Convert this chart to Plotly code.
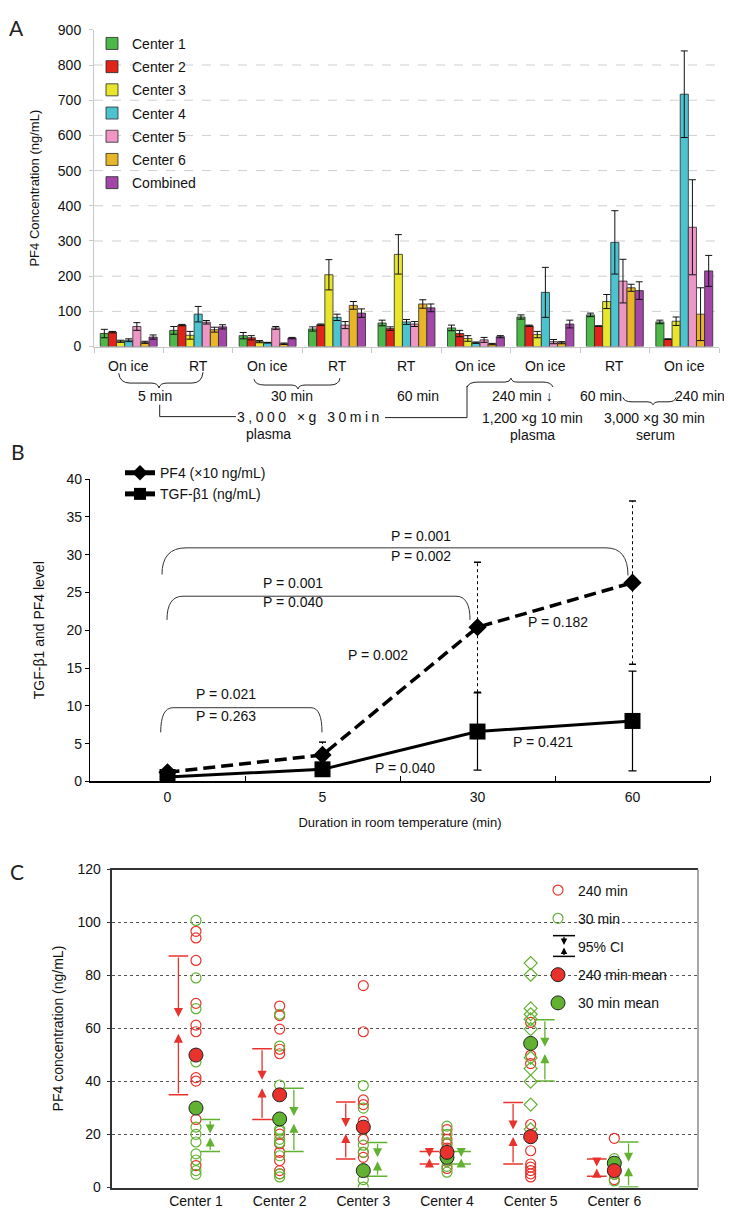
import plotly.graph_objects as go

W, H = 732, 1208
FONT = "Liberation Sans, Arial, Helvetica, sans-serif"


def px(x):
    return x / W


def py(y):
    return 1 - y / H


def path(cmds):
    out = []
    for op, pts in cmds:
        out.append(op + " ".join(f"{px(x):.5f},{py(y):.5f}" for x, y in pts))
    return " ".join(out)


# ---------------- Panel A data ----------------
groups = ["On ice 5 min", "RT 5 min", "On ice 30 min", "RT 30 min", "RT 60 min",
          "On ice 240 min", "On ice 240 min (1,200 xg)", "RT 60 min serum", "On ice 240 min serum"]
cond_labels = ["On ice", "RT", "On ice", "RT", "RT", "On ice", "On ice", "RT", "On ice"]
series_a = ["Center 1", "Center 2", "Center 3", "Center 4", "Center 5", "Center 6", "Combined"]
c1_vals = [37, 46, 31, 50, 67, 53, 84, 90, 70]
c1_err = [12, 11, 9, 6, 8, 8, 6, 5, 5]
c2_vals = [41, 61, 25, 62, 51, 37, 59, 58, 21]
c2_err = [2, 2, 6, 2, 5, 9, 2, 1, 1]
c3_vals = [15, 32, 14, 204, 262, 23, 34, 128, 72]
c3_err = [3, 11, 3, 43, 56, 8, 9, 20, 12]
c4_vals = [18, 92, 11, 83, 70, 11, 154, 296, 717]
c4_err = [4, 22, 1, 9, 7, 2, 71, 90, 123]
c5_vals = [57, 69, 53, 61, 64, 19, 14, 186, 339]
c5_err = [11, 5, 4, 10, 7, 7, 6, 62, 135]
c6_vals = [12, 48, 8, 117, 121, 7, 11, 167, 92]
c6_err = [3, 7, 2, 11, 12, 2, 3, 10, 75]
comb_vals = [27, 56, 24, 95, 110, 28, 64, 159, 215]
comb_err = [6, 6, 2, 12, 11, 3, 11, 25, 44]
yticks_a = [0, 100, 200, 300, 400, 500, 600, 700, 800, 900]

# ---------------- Panel B data ----------------
durations = ["0", "5", "30", "60"]
pf4_vals = [1.2, 3.5, 20.4, 26.3]
pf4_err = [0.4, 1.7, 8.6, 10.8]
tgf_vals = [0.6, 1.6, 6.6, 8.0]
tgf_err = [0.2, 0.3, 5.1, 6.6]

# ---------------- Panel C data ----------------
c_centers = ["Center 1", "Center 2", "Center 3", "Center 4", "Center 5", "Center 6"]
c240_pts = [
    [96.7, 94.2, 85.7, 69.5, 61.3, 58.8, 41.5, 40.2, 25.7, 8.3],
    [68.5, 64.9, 59.8, 52.2, 50.5, 20.2, 16.5, 13.3, 10.2, 6.4, 5.2],
    [76.2, 58.8, 33.1, 31.3, 25.0, 18.2, 13.3, 11.4],
    [21.9, 18.2, 16.5, 14.9, 12.0, 9.9, 7.2],
    [62.3, 49.9, 46.8, 23.8, 13.9, 8.9, 7.7, 6.4, 5.2, 4.0],
    [18.6, 8.0, 5.0, 3.0],
]
c30_pts = [
    [100.8, 79.1, 67.5, 47.4, 22.8, 20.1, 17.2, 12.7, 10.4, 6.4, 5.0],
    [65.4, 53.4, 38.7, 22.0, 21.3, 18.2, 17.0, 12.0, 5.2, 4.0],
    [38.5, 30.0, 22.0, 16.0, 13.3, 6.4, 3.0, 0.2],
    [23.2, 20.1, 17.0, 12.4, 10.0, 8.0, 5.8],
    [84.7, 80.3, 67.6, 65.4, 63.5, 59.8, 49.0, 44.9, 40.0, 31.3, 22.0],
    [10.9, 8.0, 5.0, 2.5],
]
mean240 = [50.0, 35.0, 22.8, 13.3, 19.2, 6.4]
mean30 = [30.0, 25.9, 6.4, 11.4, 54.4, 9.2]
ci240_lo = [35.0, 25.7, 10.8, 8.9, 8.9, 4.3]
ci240_hi = [87.4, 52.4, 32.3, 13.6, 32.1, 10.8]
ci30_lo = [13.6, 13.6, 4.3, 8.9, 40.2, 0.2]
ci30_hi = [25.7, 37.5, 17.0, 13.6, 63.3, 17.2]
yticks_c = [0, 20, 40, 60, 80, 100, 120]

RED = "#e8322b"
GREEN = "#62b232"

fig = go.Figure()

# ---------------- Panel A traces ----------------
colors_a = ["#4cb848", "#e2231a", "#e8e52c", "#4cc4d0", "#ee96c6", "#e8b526", "#a247a8"]
vals_a = [c1_vals, c2_vals, c3_vals, c4_vals, c5_vals, c6_vals, comb_vals]
errs_a = [c1_err, c2_err, c3_err, c4_err, c5_err, c6_err, comb_err]
gx = list(range(len(groups)))
for name, vals, errs, col in zip(series_a, vals_a, errs_a, colors_a):
    fig.add_trace(go.Bar(
        x=gx, y=vals, name=name, xaxis="x", yaxis="y",
        marker=dict(color=col, line=dict(color="#2a2a2a", width=0.8)),
        error_y=dict(type="data", array=errs, color="#111", thickness=1, width=3.5),
        legend="legend", legendgroup=name, hoverinfo="skip"))

# ---------------- Panel B traces ----------------
bx = list(range(len(durations)))
ex, ey, capx, capy = [], [], [], []
for i, (v, e) in enumerate(zip(pf4_vals, pf4_err)):
    ex += [i, i, None]
    ey += [v - e, v + e, None]
    capx += [i, i]
    capy += [v - e, v + e]
fig.add_trace(go.Scatter(x=ex, y=ey, mode="lines", xaxis="x2", yaxis="y2",
                         line=dict(color="black", width=1, dash="dot"),
                         showlegend=False, hoverinfo="skip"))
fig.add_trace(go.Scatter(x=capx, y=capy, mode="markers", xaxis="x2", yaxis="y2",
                         marker=dict(symbol="line-ew", size=5, line=dict(color="black", width=1.5)),
                         showlegend=False, hoverinfo="skip"))
fig.add_trace(go.Scatter(
    x=bx, y=tgf_vals, name="TGF-\u03b21 (ng/mL)", mode="lines+markers", xaxis="x2", yaxis="y2",
    line=dict(color="black", width=3),
    marker=dict(symbol="square", size=16, color="black"),
    error_y=dict(type="data", array=tgf_err, color="black", thickness=1.2, width=4),
    legend="legend2", legendrank=2))
fig.add_trace(go.Scatter(
    x=bx, y=pf4_vals, name="PF4 (\u00d710 ng/mL)", mode="lines+markers", xaxis="x2", yaxis="y2",
    line=dict(color="black", width=3.5, dash="12px,6px"),
    marker=dict(symbol="diamond", size=14, color="black"),
    legend="legend2", legendrank=1))

# ---------------- Panel C traces ----------------
x240, y240, x30, y30, sym30 = [], [], [], [], []
for i, (pts_r, pts_g) in enumerate(zip(c240_pts, c30_pts)):
    for v in pts_r:
        x240.append(i + 1)
        y240.append(v)
    for v in pts_g:
        x30.append(i + 1)
        y30.append(v)
        sym30.append("diamond-open" if c_centers[i] == "Center 5" else "circle-open")

fig.add_trace(go.Scatter(x=x240, y=y240, mode="markers", name="240 min", xaxis="x3", yaxis="y3",
                         marker=dict(symbol="circle-open", size=10, color=RED, line=dict(width=1.2)),
                         legend="legend3", legendgroup="a", legendrank=1))
fig.add_trace(go.Scatter(x=x30, y=y30, mode="markers", name="30 min", xaxis="x3", yaxis="y3",
                         marker=dict(symbol=sym30, size=10, color=GREEN, line=dict(width=1.2)),
                         legend="legend3", legendgroup="b", legendrank=2))
fig.add_trace(go.Scatter(x=[None], y=[None], mode="markers", name="95% CI", xaxis="x3", yaxis="y3",
                         marker=dict(size=1, color="rgba(0,0,0,0)"),
                         legend="legend3", legendgroup="c", legendrank=3))

OFF_R, OFF_G = -0.21, 0.17
cx_r = [i + 1 + OFF_R for i in range(len(c_centers)) for _ in (0, 1)]
cy_r = [v for lo, hi in zip(ci240_lo, ci240_hi) for v in (lo, hi)]
cx_g = [i + 1 + OFF_G for i in range(len(c_centers)) for _ in (0, 1)]
cy_g = [v for lo, hi in zip(ci30_lo, ci30_hi) for v in (lo, hi)]
fig.add_trace(go.Scatter(x=cx_r, y=cy_r, mode="markers", xaxis="x3", yaxis="y3", showlegend=False,
                         marker=dict(symbol="line-ew", size=14, line=dict(color=RED, width=1.5))))
fig.add_trace(go.Scatter(x=cx_g, y=cy_g, mode="markers", xaxis="x3", yaxis="y3", showlegend=False,
                         marker=dict(symbol="line-ew", size=14, line=dict(color=GREEN, width=1.5))))

cx = list(range(1, len(c_centers) + 1))
fig.add_trace(go.Scatter(x=cx, y=mean30, mode="markers", name="30 min mean", xaxis="x3", yaxis="y3",
                         marker=dict(symbol="circle", size=14, color=GREEN, line=dict(color="#222", width=1)),
                         legend="legend3", legendgroup="e", legendrank=5))
fig.add_trace(go.Scatter(x=cx, y=mean240, mode="markers", name="240 min mean", xaxis="x3", yaxis="y3",
                         marker=dict(symbol="circle", size=14, color=RED, line=dict(color="#222", width=1)),
                         legend="legend3", legendgroup="d", legendrank=4))

annotations = []
shapes = []

# CI arrows in panel C
for los, his, off, col in ((ci240_lo, ci240_hi, OFF_R, RED), (ci30_lo, ci30_hi, OFF_G, GREEN)):
    for i, (lo, hi) in enumerate(zip(los, his)):
        mid = (lo + hi) / 2
        gap = 0.06 * (hi - lo)
        xx = i + 1 + off
        for tail, head in ((hi, mid + gap), (lo, mid - gap)):
            annotations.append(dict(x=xx, y=head, ax=xx, ay=tail, xref="x3", yref="y3",
                                    axref="x3", ayref="y3", text="", showarrow=True,
                                    arrowhead=2, arrowsize=1.4, arrowwidth=1.3,
                                    arrowcolor=col, standoff=0, startstandoff=0))

# CI glyph in legend C
gx0, gy0 = 556, 943
shapes.append(dict(type="line", xref="paper", yref="paper", x0=px(gx0 - 11), x1=px(gx0 + 11),
                   y0=py(gy0 - 11), y1=py(gy0 - 11), line=dict(color="black", width=1.5)))
shapes.append(dict(type="line", xref="paper", yref="paper", x0=px(gx0 - 11), x1=px(gx0 + 11),
                   y0=py(gy0 + 10), y1=py(gy0 + 10), line=dict(color="black", width=1.5)))
for tail, head in ((gy0 - 11, gy0 - 1.5), (gy0 + 10, gy0 + 1)):
    annotations.append(dict(x=px(gx0), y=py(head), ax=0, ay=tail - head, xref="paper", yref="paper",
                            text="", showarrow=True, arrowhead=2, arrowsize=1.0, arrowwidth=1.3,
                            arrowcolor="black", standoff=0))

# Gridlines panel A (dashed)
for v in yticks_a[1:-1]:
    shapes.append(dict(type="line", xref="x domain", yref="y", x0=0, x1=1.015, y0=v, y1=v,
                       line=dict(color="#cfcfcf", width=1, dash="dash"), layer="below"))

# right border panel C
shapes.append(dict(type="line", xref="paper", yref="paper", x0=px(690), x1=px(690),
                   y0=py(865), y1=py(1187.3), line=dict(color="#8a8a8a", width=1.5)))

# Panel A lower diagram
for i, lab in enumerate(cond_labels):
    annotations.append(dict(x=i, y=py(355), xref="x", yref="paper", text=lab, showarrow=False,
                            font=dict(size=14), yanchor="middle"))
a_texts = [
    ("5 min", 147, 385), ("30 min", 284, 385), ("60 min", 410, 385), ("240 min \u2193", 514, 385),
    ("60 min", 593, 385), ("240 min", 692, 385),
    ('<span style="letter-spacing:3.5px">3,000 \u00d7g 30min</span>', 302, 406),
    ("1,200 \u00d7g 10 min", 524, 407), ("3,000 \u00d7g 30 min", 646, 407),
    ("plasma", 260, 424), ("plasma", 524, 425), ("serum", 647, 425),
]
for t, x, y in a_texts:
    annotations.append(dict(x=px(x), y=py(y), xref="paper", yref="paper", text=t, showarrow=False,
                            font=dict(size=14), xanchor="center", yanchor="middle"))

brace_paths = [
    [("M", [(110.7, 362)]), ("Q", [(112, 372), (122, 372)]), ("L", [(143, 372)]),
     ("Q", [(150, 372), (151, 377)]), ("Q", [(152, 372), (159, 372)]), ("L", [(184, 372)]),
     ("Q", [(194, 372), (195, 361)])],
    [("M", [(246, 368)]), ("Q", [(247, 374), (257, 374)]), ("L", [(283, 374)]),
     ("Q", [(289, 374), (290, 378)]), ("Q", [(291, 374), (297, 374)]), ("L", [(322, 374)]),
     ("Q", [(331, 374), (332, 367)])],
    [("M", [(459, 376)]), ("Q", [(461, 371), (470, 371)]), ("L", [(497, 371)]),
     ("Q", [(502, 371), (503, 367)]), ("Q", [(504, 371), (509, 371)]), ("L", [(535, 371)]),
     ("Q", [(543, 371), (545, 376)])],
    [("M", [(615, 386.5)]), ("Q", [(616, 391), (624, 391)]), ("L", [(640, 391)]),
     ("Q", [(644, 391), (645, 394)]), ("Q", [(646, 391), (650, 391)]), ("L", [(660, 391)]),
     ("Q", [(667, 391), (668, 386.5)])],
    [("M", [(151.7, 394)]), ("L", [(151.7, 406)]), ("L", [(228, 406)])],
    [("M", [(377, 407)]), ("L", [(459, 407)]), ("L", [(459, 375)])],
]
for bp in brace_paths:
    shapes.append(dict(type="path", xref="paper", yref="paper", path=path(bp),
                       line=dict(color="#222", width=1)))

# Panel B brackets
bracket_paths = [
    [("M", [(154, 566)]), ("Q", [(154, 539), (178, 539)]), ("L", [(598, 539)]),
     ("Q", [(620, 539), (620, 567)])],
    [("M", [(159, 612)]), ("Q", [(159, 588), (175, 588)]), ("L", [(448, 588)]),
     ("Q", [(462, 588), (462, 612)])],
    [("M", [(152.7, 726)]), ("Q", [(152.7, 701), (165, 701)]), ("L", [(303, 701)]),
     ("Q", [(314, 701), (314, 726)])],
]
for bp in bracket_paths:
    shapes.append(dict(type="path", xref="paper", yref="paper", path=path(bp),
                       line=dict(color="#333", width=1)))

p_texts = [
    ("P = 0.001", 413, 527), ("P = 0.002", 413, 547), ("P = 0.001", 285, 575),
    ("P = 0.040", 285, 594), ("P = 0.021", 218, 687), ("P = 0.263", 218, 709),
    ("P = 0.002", 370, 648), ("P = 0.182", 550, 614), ("P = 0.421", 535, 736),
    ("P = 0.040", 397, 762),
]
for t, x, y in p_texts:
    annotations.append(dict(x=px(x), y=py(y), xref="paper", yref="paper", text=t, showarrow=False,
                            font=dict(size=14), xanchor="center", yanchor="middle"))

for t, x, y in (("A", 8, 12), ("B", 10, 441), ("C", 9, 867)):
    annotations.append(dict(x=px(x), y=py(y), xref="paper", yref="paper", text=t, showarrow=False,
                            font=dict(size=21, family="Lato, Noto Sans, sans-serif", color="#222"),
                            xanchor="center", yanchor="middle"))

fig.update_layout(
    width=W, height=H, margin=dict(l=0, r=0, t=0, b=0),
    paper_bgcolor="white", plot_bgcolor="white",
    font=dict(family=FONT, size=14, color="#111"),
    barmode="group", bargap=0.18, bargroupgap=0,
    annotations=annotations, shapes=shapes,
    legend=dict(x=px(84), y=py(12), xanchor="left", yanchor="top", traceorder="grouped",
                tracegroupgap=2, bgcolor="rgba(0,0,0,0)", font=dict(size=14)),
    legend2=dict(x=px(112), y=py(447), xanchor="left", yanchor="top", bgcolor="rgba(0,0,0,0)",
                 font=dict(size=14), itemsizing="constant"),
    legend3=dict(x=px(530), y=py(870), xanchor="left", yanchor="top", traceorder="grouped",
                 tracegroupgap=7, bgcolor="rgba(0,0,0,0)", font=dict(size=14)),
    xaxis=dict(domain=[px(86), px(711)], range=[-0.5, len(groups) - 0.5], anchor="y",
               tickmode="array", tickvals=[i - 0.5 for i in range(len(groups) + 1)],
               showticklabels=False, ticks="outside", ticklen=5, tickcolor="#c8c8c8",
               showline=True, linecolor="#c8c8c8", showgrid=False, zeroline=False),
    yaxis=dict(domain=[py(335), py(14)], range=[0, 900], anchor="x",
               tickmode="array", tickvals=yticks_a, ticks="outside", ticklen=4, tickcolor="#c8c8c8",
               showline=True, linecolor="#c8c8c8", showgrid=False, zeroline=False,
               tickfont=dict(size=14), ticklabelstandoff=5,
               title=dict(text="PF4 Concentration (ng/mL)", font=dict(size=13), standoff=15)),
    xaxis2=dict(domain=[px(82), px(702)], range=[-0.5, len(durations) - 0.5], anchor="y2",
                tickmode="array", tickvals=bx, ticktext=durations, ticks="",
                minor=dict(tickmode="array", tickvals=[i + 0.5 for i in bx], ticks="inside",
                           ticklen=6, tickcolor="black", tickwidth=1.2, showgrid=False),
                showline=True, linecolor="black", linewidth=1.5, showgrid=False, zeroline=False,
                tickfont=dict(size=14), ticklabelstandoff=2,
                title=dict(text="Duration in room temperature (min)", font=dict(size=13), standoff=14)),
    yaxis2=dict(domain=[py(775.7), py(469.3)], range=[0, 40], anchor="x2", dtick=5,
                ticks="outside", ticklen=4, tickcolor="black", showline=True, linecolor="black",
                linewidth=1.2, showgrid=False, zeroline=False, tickfont=dict(size=14),
                title=dict(text="TGF-\u03b21 and PF4 level", font=dict(size=14), standoff=18)),
    xaxis3=dict(domain=[px(104.3), px(690)], range=[0, len(c_centers) + 1], anchor="y3",
                tickmode="array", tickvals=cx, ticktext=c_centers, ticks="",
                showline=True, mirror=True, linecolor="#333", linewidth=1.5,
                showgrid=False, zeroline=False, tickfont=dict(size=14)),
    yaxis3=dict(domain=[py(1187.3), py(865)], range=[0, 120], anchor="x3",
                tickmode="array", tickvals=yticks_c, ticks="outside", ticklen=4, tickcolor="#333",
                showline=True, linecolor="#333", linewidth=1.5, showgrid=True,
                gridcolor="#555", griddash="dot", gridwidth=1, zeroline=False,
                tickfont=dict(size=14), ticklabelstandoff=3,
                title=dict(text="PF4 concentration (ng/mL)", font=dict(size=14), standoff=10)),
)

fig.write_html("out.html")
